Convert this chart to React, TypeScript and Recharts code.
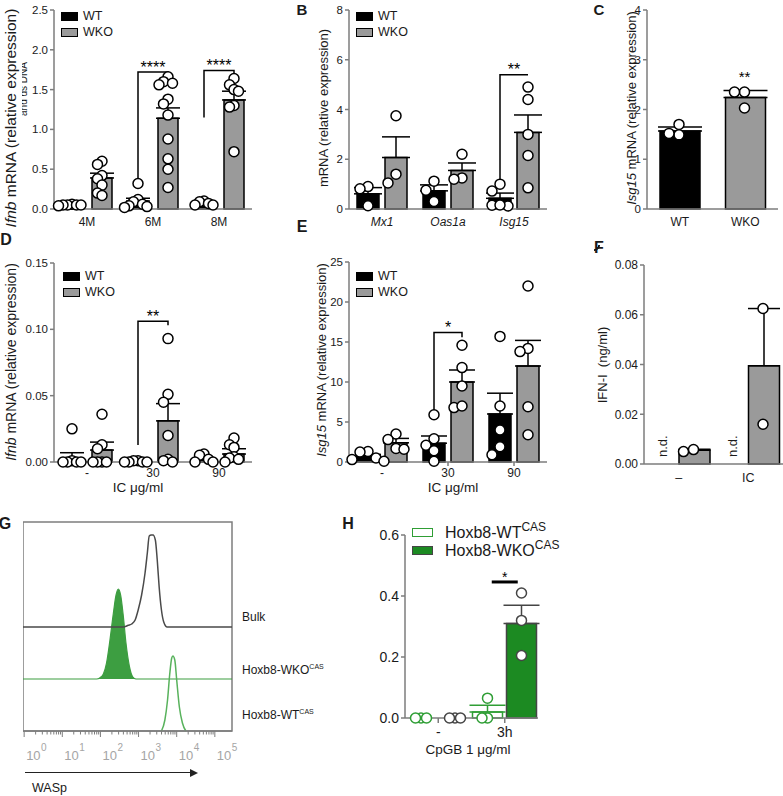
import React from 'react';
import { ComposedChart, Bar, XAxis, YAxis, Scatter, Line, Area, ErrorBar, Cell, ReferenceArea } from 'recharts';

const FONT = '"Liberation Sans", Arial, Helvetica, sans-serif';
const AXIS = '#7d7d7d';
const INK = '#1a1a1a';
const WKO_GRAY = '#9a9a9a';
const H_GREEN = '#1c8a22';
const H_GREEN_LINE = '#2f9e35';
const H_DARK = '#454545';
const G_BULK = '#4a4a4a';
const G_FILL = '#3d9e41';
const G_WT = '#58b25c';

// ---------------- Panel A ----------------
const catsA = ['4M', '6M', '8M'];
const yTicksA = [0, 0.5, 1, 1.5, 2, 2.5];
const wtMeanA = [0.05, 0.1, 0.07];
const wtSemA = [0.004, 0.035, 0.012];
const wkoMeanA = [0.39, 1.14, 1.37];
const wkoSemA = [0.06, 0.13, 0.11];
const wtPtsA = [
  [0.06, 0.05, 0.05, 0.05, 0.04, 0.05],
  [0.32, 0.12, 0.09, 0.06, 0.04, 0.03, 0.02],
  [0.1, 0.09, 0.07, 0.05, 0.05],
];
const wkoPtsA = [
  [0.6, 0.56, 0.42, 0.38, 0.3, 0.2, 0.17],
  [1.66, 1.6, 1.58, 1.56, 1.38, 1.32, 1.18, 0.88, 0.63, 0.5, 0.27],
  [1.64, 1.56, 1.5, 1.48, 1.3, 1.28, 0.72],
];
const sigA = [
  { cat: 1, foot: 0.37, top: 1.72, drop: 0.05, label: '****' },
  { cat: 2, foot: 1.15, top: 1.74, drop: 0.05, label: '****' },
];

// ---------------- Panel B ----------------
const catsB = ['Mx1', 'Oas1a', 'Isg15'];
const yTicksB = [0, 2, 4, 6, 8];
const wtMeanB = [0.61, 0.73, 0.43];
const wtSemB = [0.25, 0.24, 0.21];
const wkoMeanB = [2.07, 1.55, 3.08];
const wkoSemB = [0.83, 0.3, 0.7];
const wtPtsB = [[0.9, 0.81, 0.13], [1.12, 0.75, 0.3], [1.0, 0.72, 0.15, 0.12, 0.16]];
const wkoPtsB = [[3.75, 1.4, 1.05], [2.2, 1.25, 1.2], [4.9, 4.4, 3.0, 2.15, 0.85]];
const sigB = [{ cat: 2, foot: 1.17, top: 5.4, drop: 0, label: '**' }];

// ---------------- Panel C ----------------
const catsC = ['WT', 'WKO'];
const yTicksC = [0, 1, 2, 3, 4];
const meanC = [1.57, 2.24];
const semC = [0.08, 0.14];
const ptsC = [[1.7, 1.49, 1.52], [2.35, 2.35, 2.03]];
const noteC = [{ cat: 1, series: 0, y: 2.56, t: '**' }];

// ---------------- Panel D ----------------
const catsD = ['-', '30', '90'];
const yTicksD = [0, 0.05, 0.1, 0.15];
const wtMeanD = [0.003, 0.0005, 0.0015];
const wtSemD = [0.004, 0.0003, 0.001];
const wkoMeanD = [0.009, 0.031, 0.006];
const wkoSemD = [0.006, 0.013, 0.004];
const wtPtsD = [
  [0.025, 0.001, 0.0, 0.0, 0.0, 0.0],
  [0.001, 0.001, 0.0, 0.0, 0.0, 0.0],
  [0.006, 0.005, 0.002, 0.0, 0.0],
];
const wkoPtsD = [
  [0.036, 0.013, 0.01, 0.0, 0.0, 0.0, 0.0],
  [0.093, 0.051, 0.045, 0.02, 0.002, 0.001, 0.0],
  [0.018, 0.013, 0.011, 0.004, 0.003, 0.002, 0.0],
];
const sigD = [{ cat: 1, foot: 0.0128, top: 0.106, drop: 0.003, label: '**' }];

// ---------------- Panel E ----------------
const catsE = ['-', '30', '90'];
const yTicksE = [0, 5, 10, 15, 20, 25];
const wtMeanE = [0.7, 2.35, 6.0];
const wtSemE = [0.25, 0.9, 2.6];
const wkoMeanE = [2.4, 10.0, 12.0];
const wkoSemE = [0.55, 1.5, 3.2];
const wtPtsE = [[1.3, 1.25, 0.5, 0.3, 0.1], [5.9, 2.9, 2.1, 1.4, 0.1], [15.7, 7.0, 4.0, 1.9, 0.9]];
const wkoPtsE = [[3.5, 2.8, 1.7, 1.6], [14.6, 11.8, 9.5, 6.8, 7.0], [22.0, 14.2, 13.8, 6.9, 3.4]];
const sigE = [{ cat: 1, foot: 6.3, top: 16.2, drop: 0.6, label: '*' }];

// ---------------- Panel F ----------------
const catsF = ['\u2013', 'IC'];
const yTicksF = [0, 0.02, 0.04, 0.06, 0.08];
const wtMeanF = [0, 0];
const wkoMeanF = [0.0055, 0.0395];
const wkoSemF = [0.0004, 0.023];
const wkoPtsF = [[0.005, 0.0058], [0.0625, 0.016]];
const noteF = [
  { cat: 0, series: 0, y: 0, t: 'n.d.', rot: true },
  { cat: 1, series: 0, y: 0, t: 'n.d.', rot: true },
];

// ---------------- Panel G (flow histogram) ----------------
const gDecades = [0, 1, 2, 3, 4, 5];
const gMinor = [2, 3, 4, 5, 6, 7, 8, 9];
const gBulkX = [-0.03, 2.6, 2.73, 2.82, 2.91, 2.99, 3.08, 3.17, 3.23, 3.28, 3.33, 3.38, 3.44, 3.49, 3.54, 3.6, 3.66, 3.75, 5.45];
const gBulkY = [0, 0, 1.7, 3, 7, 17, 32, 54, 74, 91, 92, 92, 87, 67, 40, 17, 5, 0, 0];
const gWkoX = [-0.03, 1.9, 1.99, 2.08, 2.16, 2.25, 2.34, 2.41, 2.47, 2.53, 2.6, 2.67, 2.76, 2.85, 2.93, 5.45];
const gWkoY = [0, 0, 1.3, 5.3, 16, 39, 66, 84, 90, 84, 63, 36, 12.7, 2, 0, 0];
const gWtX = [3.6, 3.69, 3.76, 3.82, 3.87, 3.9, 3.95, 4.0, 4.07, 4.15, 4.24];
const gWtY = [0, 11, 31, 58, 73, 75, 71, 51, 24, 8, 0];

// ---------------- Panel H ----------------
const catsH = ['-', '3h'];
const yTicksH = [0, 0.2, 0.4, 0.6];
const wtMeanH = [0, 0.02];
const wtSemH = [0, 0.022];
const wkoMeanH = [0, 0.31];
const wkoSemH = [0, 0.06];
const wtPtsH = [[0, 0, 0], [0.065, 0, 0]];
const wkoPtsH = [[0, 0, 0], [0.41, 0.32, 0.205]];
const sigH = [{ cat: 1, kind: 'flat', top: 0.446, label: '*' }];

// ---------------- helpers ----------------
function swarm(ys: number[], sep: number, vth: number) {
  const idx = ys.map((_, i) => i).sort((a, b) => ys[b] - ys[a]);
  const placed: { x: number; y: number }[] = [];
  const out = ys.map(() => 0);
  idx.forEach((i) => {
    let off = 0;
    for (let s = 0; s < 60; s++) {
      const cand = s === 0 ? 0 : (s % 2 ? -1 : 1) * Math.ceil(s / 2) * sep;
      if (placed.every((p) => Math.abs(p.y - ys[i]) >= vth || Math.abs(p.x - cand) >= sep - 0.01)) {
        off = cand;
        break;
      }
    }
    placed.push({ x: off, y: ys[i] });
    out[i] = off;
  });
  return out;
}

function GroupedPanel(props: any) {
  const {
    left, top, width, height, cats, series, yMax, yTicks, yFmt, barSize, barGap,
    sig = [], notes = [], xTickLine = 0, xFont = 12, yFont = 11.5, italicX = false,
    sep = 8, vth = 10, capW = 10, r = 5, xTickGap = 8, sigFont = 16, flatHalf = 13,
  } = props;
  const YW = 50, MT = 20, MR = 3, XH = 30;
  const n = cats.length, m = series.length;
  const band = width / n;
  const total = m * barSize + (m - 1) * barGap;
  const off0 = Math.floor((band - total) / 2);
  const cxU = (i: number, j: number, px = 0) => i + (off0 + j * (barSize + barGap) + barSize / 2 + px) / band;
  const pxU = height / yMax;
  const table = cats.map((c: string, i: number) => {
    const row: any = { cat: c };
    series.forEach((s: any, j: number) => {
      row['v' + j] = s.mean[i];
      row['e' + j] = s.sem && s.sem[i] ? [0, s.sem[i]] : null;
    });
    return row;
  });
  const pts = series.map((s: any, j: number) => {
    const out: any[] = [];
    (s.points || []).forEach((vals: number[], i: number) => {
      const offs = swarm(vals.map((v) => v * pxU), sep, vth);
      vals.forEach((v, k) => out.push({ x: cxU(i, j, offs[k]), y: v }));
    });
    return out;
  });
  const sigLines = sig.map((b: any) =>
    b.kind === 'flat'
      ? [{ x: b.cat + 0.5 - flatHalf / band, y: b.top }, { x: b.cat + 0.5 + flatHalf / band, y: b.top }]
      : [
          { x: cxU(b.cat, 0), y: b.foot },
          { x: cxU(b.cat, 0), y: b.top },
          { x: cxU(b.cat, 1), y: b.top },
          { x: cxU(b.cat, 1), y: b.top - b.drop },
        ]
  );
  const texts = [
    ...sig.map((b: any) => ({
      x: b.kind === 'flat' ? b.cat + 0.5 : (cxU(b.cat, 0) + cxU(b.cat, 1)) / 2,
      y: b.top,
      t: b.label,
    })),
    ...notes.map((nt: any) => ({ x: cxU(nt.cat, nt.series), y: nt.y, t: nt.t, rot: nt.rot })),
  ];
  const ts = xTickLine || 4;
  return (
    <div style={{ position: 'absolute', left: left - YW, top: top - MT }}>
      <ComposedChart
        width={YW + width + MR}
        height={MT + height + XH}
        data={table}
        margin={{ top: MT, right: MR, left: 0, bottom: 0 }}
        barGap={barGap}
      >
        <XAxis
          xAxisId="cat"
          dataKey="cat"
          type="category"
          height={XH}
          interval={0}
          axisLine={{ stroke: AXIS, strokeWidth: 1.5 }}
          tickLine={xTickLine ? { stroke: AXIS, strokeWidth: 1.5 } : false}
          tickSize={ts}
          tickMargin={xTickGap - ts}
          tick={(p: any) => (
            <text
              x={p.x}
              y={p.y}
              dy={xFont * 0.71}
              textAnchor="middle"
              fontSize={xFont}
              fontStyle={italicX ? 'italic' : 'normal'}
              fontFamily={FONT}
              fill={INK}
            >
              {p.payload.value}
            </text>
          )}
        />
        <XAxis xAxisId="num" dataKey="x" type="number" domain={[0, n]} hide />
        <YAxis
          yAxisId="y"
          type="number"
          domain={[0, yMax]}
          ticks={yTicks}
          interval={0}
          width={YW}
          tickFormatter={yFmt}
          axisLine={{ stroke: AXIS, strokeWidth: 1.5 }}
          tickLine={{ stroke: AXIS, strokeWidth: 1.5 }}
          tickSize={4}
          tickMargin={2}
          tick={{ fontSize: yFont, fill: INK, fontFamily: FONT }}
        />
        {series.map((s: any, j: number) => (
          <Bar
            key={'b' + j}
            xAxisId="cat"
            yAxisId="y"
            dataKey={'v' + j}
            barSize={barSize}
            fill={s.fill}
            stroke={s.stroke}
            strokeWidth={1.5}
            isAnimationActive={false}
          >
            {s.fills && s.fills.map((f: string, i: number) => <Cell key={i} fill={f} />)}
            {s.sem && (
              <ErrorBar
                dataKey={'e' + j}
                width={capW}
                stroke={s.errStroke || '#000'}
                strokeWidth={1.5}
                direction="y"
                isAnimationActive={false}
              />
            )}
          </Bar>
        ))}
        {sigLines.map((d: any, k: number) => (
          <Line
            key={'s' + k}
            xAxisId="num"
            yAxisId="y"
            data={d}
            dataKey="y"
            type="linear"
            dot={false}
            activeDot={false}
            stroke="#000"
            strokeWidth={sig[k].kind === 'flat' ? 3 : 1.5}
            isAnimationActive={false}
          />
        ))}
        {pts.map((d: any, j: number) => (
          <Scatter
            key={'p' + j}
            xAxisId="num"
            yAxisId="y"
            data={d}
            dataKey="y"
            isAnimationActive={false}
            shape={(p: any) => (
              <circle cx={p.cx} cy={p.cy} r={r} fill="#fff" stroke={series[j].ptStroke || '#000'} strokeWidth={1.5} />
            )}
          />
        ))}
        {texts.length > 0 && (
          <Scatter
            xAxisId="num"
            yAxisId="y"
            data={texts}
            dataKey="y"
            isAnimationActive={false}
            shape={(p: any) =>
              p.payload.rot ? (
                <text
                  x={p.cx}
                  y={p.cy - 7}
                  dy="0.35em"
                  transform={`rotate(-90, ${p.cx}, ${p.cy - 7})`}
                  textAnchor="start"
                  fontSize={13}
                  fontFamily={FONT}
                  fill={INK}
                >
                  {p.payload.t}
                </text>
              ) : (
                <text x={p.cx} y={p.cy + 0.5} textAnchor="middle" fontSize={sigFont} fontFamily={FONT} fill="#000">
                  {p.payload.t}
                </text>
              )
            }
          />
        )}
      </ComposedChart>
    </div>
  );
}

const RotText = ({ cx, cy, size = 13, children }: any) => (
  <div
    style={{
      position: 'absolute', left: cx, top: cy, transform: 'translate(-50%, -50%) rotate(-90deg)',
      whiteSpace: 'pre', fontSize: size, lineHeight: 1, fontFamily: FONT, color: INK,
    }}
  >
    {children}
  </div>
);

const Txt = ({ x, y, size = 13, center = false, bold = false, color = INK, children }: any) => (
  <div
    style={{
      position: 'absolute', left: x, top: y, transform: center ? 'translate(-50%, -50%)' : 'translateY(-50%)',
      whiteSpace: 'pre', fontSize: size, lineHeight: 1, fontFamily: FONT, color, fontWeight: bold ? 700 : 400,
    }}
  >
    {children}
  </div>
);

const LegendBox = ({ x, y, items, font = 12.5, sw = 17, sh = 9, gap = 16, tx = 5 }: any) => (
  <>
    {items.map((it: any, k: number) => (
      <div
        key={k}
        style={{ position: 'absolute', left: x, top: y + k * gap, height: sh, display: 'flex', alignItems: 'center' }}
      >
        <div style={{ width: sw, height: sh, boxSizing: 'border-box', background: it.fill, border: `1.5px solid ${it.stroke}` }} />
        <div style={{ marginLeft: tx, fontSize: font, lineHeight: 1, whiteSpace: 'nowrap', color: INK, fontFamily: FONT }}>
          {it.label}
        </div>
      </div>
    ))}
  </>
);

const wtwko = [
  { label: 'WT', fill: '#000', stroke: '#000' },
  { label: 'WKO', fill: WKO_GRAY, stroke: '#000' },
];

function mkSeries(wm: number[], ws: number[], wp: number[][], km: number[], ks: number[], kp: number[][]) {
  return [
    { mean: wm, sem: ws, points: wp, fill: '#000', stroke: '#000' },
    { mean: km, sem: ks, points: kp, fill: WKO_GRAY, stroke: '#000' },
  ];
}

function FlowPanel() {
  const L = 23, T = 522, W = 209, H = 209, MT = 2, XH = 45, MR = 24;
  const laneBulk = 104, laneWko = 52;
  const bulk = gBulkX.map((x, i) => ({ x, y: laneBulk + gBulkY[i] }));
  const wko = gWkoX.map((x, i) => ({ x, y: laneWko + gWkoY[i] }));
  const wt = gWtX.map((x, i) => ({ x, y: gWtY[i] }));
  const ticks = [
    ...gDecades,
    ...gDecades.slice(0, 5).flatMap((d) => gMinor.map((k) => d + Math.log10(k))),
  ].sort((a, b) => a - b);
  const domX: [number, number] = [-0.03, 5.45];
  return (
    <div style={{ position: 'absolute', left: L, top: T - MT }}>
      <ComposedChart width={W + MR} height={MT + H + XH} margin={{ top: MT, right: MR, left: 0, bottom: 0 }}>
        <XAxis
          dataKey="x"
          type="number"
          domain={domX}
          ticks={ticks}
          interval={0}
          height={XH}
          tickSize={0}
          tickMargin={0}
          tickLine={false}
          axisLine={{ stroke: AXIS, strokeWidth: 1.5 }}
          tick={(p: any) => {
            const v = p.payload.value;
            const major = Math.abs(v - Math.round(v)) < 1e-6;
            return (
              <g>
                <line x1={p.x} x2={p.x} y1={p.y} y2={p.y + (major ? 6 : 3.5)} stroke={AXIS} strokeWidth={1} />
                {major && (
                  <text x={p.x + 2} y={p.y + 29} fontSize={13} fill="#a5a5a5" fontFamily={FONT}>
                    10
                    <tspan dx={0.5} dy={-9} fontSize={10}>
                      {Math.round(v)}
                    </tspan>
                  </text>
                )}
              </g>
            );
          }}
        />
        <YAxis type="number" domain={[0, H]} hide />
        <ReferenceArea x1={domX[0]} x2={domX[1]} y1={0} y2={H} fill="none" stroke={AXIS} strokeWidth={1.5} />
        <Line data={bulk} dataKey="y" type="monotone" dot={false} activeDot={false} stroke={G_BULK} strokeWidth={1.5} isAnimationActive={false} />
        <Area
          data={wko}
          dataKey="y"
          type="monotone"
          baseValue={laneWko}
          fill={G_FILL}
          fillOpacity={1}
          stroke={G_FILL}
          strokeWidth={1.2}
          dot={false}
          activeDot={false}
          isAnimationActive={false}
        />
        <Line data={wt} dataKey="y" type="monotone" dot={false} activeDot={false} stroke={G_WT} strokeWidth={1.5} isAnimationActive={false} />
      </ComposedChart>
    </div>
  );
}

export default function App() {
  const f1 = (v: number) => v.toFixed(1);
  const f2 = (v: number) => v.toFixed(2);
  const f0 = (v: number) => String(v);
  return (
    <div
      style={{
        position: 'absolute', left: 0, top: 0, width: 783, height: 796, background: '#fff',
        overflow: 'hidden', fontFamily: FONT,
      }}
    >
      {/* Panel A */}
      <GroupedPanel
        left={54} top={10} width={198} height={199}
        cats={catsA} series={mkSeries(wtMeanA, wtSemA, wtPtsA, wkoMeanA, wkoSemA, wkoPtsA)}
        yMax={2.5} yTicks={yTicksA} yFmt={f1} barSize={20} barGap={10}
        sig={sigA} sep={4.5} vth={9} capW={12}
      />
      <RotText cx={10.5} cy={118} size={15.5}>
        <i>Ifnb</i> mRNA (relative expression)
      </RotText>
      <div style={{ position: 'absolute', left: 22, top: 62, width: 8, height: 54, overflow: 'hidden' }}>
        <div
          style={{
            position: 'absolute', left: 1.5, top: 27, transform: 'translate(-50%, -50%) rotate(-90deg)',
            whiteSpace: 'pre', fontSize: 10, lineHeight: 1, fontFamily: FONT, color: INK,
          }}
        >
          and ds DNA
        </div>
      </div>
      <LegendBox x={61} y={12} items={wtwko} />

      {/* Panel B */}
      <GroupedPanel
        left={349} top={10} width={198} height={199}
        cats={catsB} series={mkSeries(wtMeanB, wtSemB, wtPtsB, wkoMeanB, wkoSemB, wkoPtsB)}
        yMax={8} yTicks={yTicksB} yFmt={f0} barSize={22} barGap={6}
        sig={sigB} italicX sep={8} vth={10} capW={14}
      />
      <RotText cx={323} cy={108} size={13}>mRNA (relative expression)</RotText>
      <LegendBox x={356} y={12} items={wtwko} />
      <Txt x={302} y={8.5} size={15} center bold>B</Txt>

      {/* Panel C */}
      <GroupedPanel
        left={647} top={10} width={131} height={199}
        cats={catsC}
        series={[{ mean: meanC, sem: semC, points: ptsC, fill: '#000', fills: ['#000', WKO_GRAY], stroke: '#000' }]}
        yMax={4} yTicks={yTicksC} yFmt={f0} barSize={40} barGap={0}
        notes={noteC} sep={10} vth={10} capW={22} sigFont={15}
      />
      <RotText cx={631} cy={108} size={13}>
        <i>Isg15</i> mRNA (relative expression)
      </RotText>
      <Txt x={599} y={9} size={15} center bold>C</Txt>

      {/* Panel D */}
      <GroupedPanel
        left={54} top={263} width={198} height={199}
        cats={catsD} series={mkSeries(wtMeanD, wtSemD, wtPtsD, wkoMeanD, wkoSemD, wkoPtsD)}
        yMax={0.15} yTicks={yTicksD} yFmt={f2} barSize={20} barGap={10}
        sig={sigD} sep={4.5} vth={9} capW={12} xTickGap={6}
      />
      <RotText cx={10.5} cy={362} size={14}>
        <i>Ifnb</i> mRNA (relative expression)
      </RotText>
      <LegendBox x={63} y={272} items={wtwko} />
      <Txt x={138} y={488} size={13.5} center>IC μg/ml</Txt>
      <Txt x={6} y={240} size={16} center bold>D</Txt>

      {/* Panel E */}
      <GroupedPanel
        left={349} top={262} width={198} height={200}
        cats={catsE} series={mkSeries(wtMeanE, wtSemE, wtPtsE, wkoMeanE, wkoSemE, wkoPtsE)}
        yMax={25} yTicks={yTicksE} yFmt={f0} barSize={22} barGap={6}
        sig={sigE} sep={8} vth={10} capW={13} xTickLine={4} xTickGap={6}
      />
      <RotText cx={321} cy={360} size={13}>
        <i>Isg15</i> mRNA (relative expression)
      </RotText>
      <LegendBox x={356} y={272} items={wtwko} />
      <Txt x={453} y={488} size={13.5} center>IC μg/ml</Txt>
      <Txt x={302} y={227} size={16} center bold>E</Txt>

      {/* Panel F */}
      <GroupedPanel
        left={644} top={265} width={139} height={199}
        cats={catsF}
        series={[
          { mean: wtMeanF, points: [[], []], fill: 'none', stroke: 'none' },
          { mean: wkoMeanF, sem: wkoSemF, points: wkoPtsF, fill: WKO_GRAY, stroke: '#000' },
        ]}
        yMax={0.08} yTicks={yTicksF} yFmt={f2} barSize={31} barGap={0}
        notes={noteF} sep={10} vth={10} capW={16} xFont={12.5} yFont={12} xTickGap={9}
      />
      <RotText cx={602} cy={365} size={13}>IFN-I  (ng/ml)</RotText>
      <Txt x={599} y={248} size={16} center bold>F</Txt>

      {/* Panel G */}
      <FlowPanel />
      <Txt x={242} y={617} size={12}>Bulk</Txt>
      <Txt x={242} y={670} size={12}>
        Hoxb8-WKO<span style={{ fontSize: 7, position: 'relative', top: -5 }}>CAS</span>
      </Txt>
      <Txt x={242} y={715} size={12}>
        Hoxb8-WT<span style={{ fontSize: 7, position: 'relative', top: -5 }}>CAS</span>
      </Txt>
      <div style={{ position: 'absolute', left: 25, top: 772, width: 166, height: 0, borderTop: '1.5px solid #222' }} />
      <div
        style={{
          position: 'absolute', left: 190, top: 769, width: 0, height: 0,
          borderTop: '4px solid transparent', borderBottom: '4px solid transparent', borderLeft: '8px solid #222',
        }}
      />
      <Txt x={32} y={788} size={12.5}>WASp</Txt>
      <Txt x={5} y={524} size={16} center bold>G</Txt>

      {/* Panel H */}
      <GroupedPanel
        left={405} top={535} width={133} height={183}
        cats={catsH}
        series={[
          { mean: wtMeanH, sem: wtSemH, points: wtPtsH, fill: '#fff', stroke: H_GREEN_LINE, ptStroke: H_GREEN_LINE, errStroke: H_GREEN_LINE },
          { mean: wkoMeanH, sem: wkoSemH, points: wkoPtsH, fill: H_GREEN, stroke: H_DARK, ptStroke: H_DARK, errStroke: H_DARK },
        ]}
        yMax={0.6} yTicks={yTicksH} yFmt={f1} barSize={30} barGap={4}
        sig={sigH} sep={5.5} vth={10} capW={18} xTickLine={5} xTickGap={9} xFont={14} yFont={14} sigFont={14}
      />
      <LegendBox
        x={412} y={528} gap={18} sw={21} sh={9} font={16} tx={12}
        items={[
          { label: <>Hoxb8-WT<span style={{ fontSize: 12, position: 'relative', top: -7 }}>CAS</span></>, fill: '#fff', stroke: H_GREEN_LINE },
          { label: <>Hoxb8-WKO<span style={{ fontSize: 12, position: 'relative', top: -7 }}>CAS</span></>, fill: H_GREEN, stroke: H_DARK },
        ]}
      />
      <Txt x={468} y={750} size={13.5} center>CpGB 1 μg/ml</Txt>
      <Txt x={348} y={524} size={16} center bold>H</Txt>
    </div>
  );
}
